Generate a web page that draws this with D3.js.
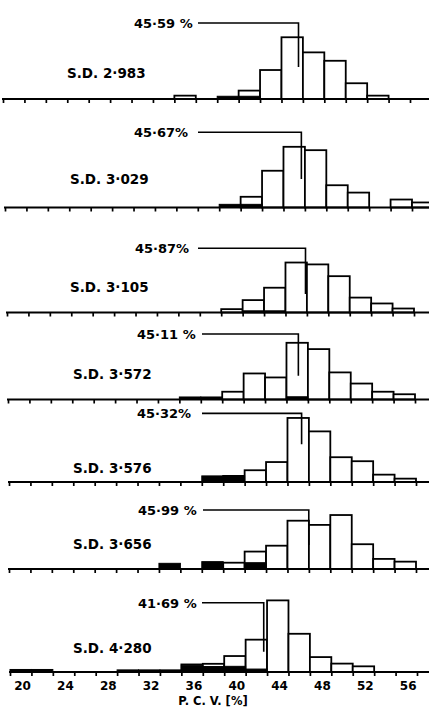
<!DOCTYPE html>
<html><head><meta charset="utf-8">
<script src="https://cdn.jsdelivr.net/npm/d3@7/dist/d3.min.js"></script>
<style>body{margin:0;background:#fff}svg{display:block}</style>
</head><body><svg id="c" width="429" height="721"></svg>
<script>
// ---------- DATA ----------
const sdLabels   = ["S.D. 2·983","S.D. 3·029","S.D. 3·105","S.D. 3·572","S.D. 3·576","S.D. 3·656","S.D. 4·280"];
const meanLabels = ["45·59 %","45·67%","45·87%","45·11 %","45·32%","45·99 %","41·69 %"];
const means      = [45.59, 45.67, 45.87, 45.11, 45.32, 45.99, 41.69];
// leader line of mean label: top (horizontal part) and lower end, in frequency units above baseline
const leaderTop    = [36.2, 35.8, 30.6, 31.2, 32.7, 28.1, 33.0];
const leaderBottom = [15.2, 13.6, 8.8, 11.3, 18.0, 11.4, 9.7];
// open (white) histogram bars: [bin start, frequency %], bin width 2
const open1 = [[34,1.6],[40,4.0],[42,13.8],[44,29.4],[46,22.2],[48,18.2],[50,7.5],[52,1.6]];
const open2 = [[40,5.1],[42,17.5],[44,28.9],[46,27.3],[48,10.6],[50,7.1],[54,3.8],[56,2.4]];
const open3 = [[38,1.6],[40,5.9],[42,11.8],[44,23.8],[46,22.9],[48,17.3],[50,7.1],[52,4.3],[54,1.9]];
const open4 = [[38,3.7],[40,12.4],[42,10.5],[44,27.0],[46,24.0],[48,12.9],[50,7.6],[52,3.7],[54,2.5]];
const open5 = [[38,2.9],[40,5.6],[42,9.5],[44,30.5],[46,24.1],[48,11.8],[50,9.9],[52,3.5],[54,1.6]];
const open6 = [[38,3.0],[40,8.3],[42,11.1],[44,23.0],[46,21.0],[48,25.7],[50,11.8],[52,4.8],[54,3.5]];
const open7 = [[34,3.6],[36,3.9],[38,7.6],[40,15.4],[42,34.1],[44,18.2],[46,7.1],[48,4.0],[50,2.7]];
// solid (black) bars
const solid1 = [[38,1.3],[40,1.3]];
const solid2 = [[38,1.5],[40,1.5]];
const solid3 = [[40,0.8],[42,0.8]];
const solid4 = [[34,1.2],[36,1.2],[44,1.3]];
const solid5 = [[36,2.9],[38,2.9]];
const solid6 = [[32,2.7],[36,3.5],[40,3.0]];
const solid7 = [[18,1.2],[20,1.2],[28,1.0],[30,1.0],[32,1.0],[34,3.2],[36,2.6],[38,2.7],[40,1.4]];
const tickValues  = d3.range(18, 57, 2);
const labelValues = [20,24,28,32,36,40,44,48,52,56];
const axisTitle = "P. C. V. [%]";
const binWidth = 2;

// ---------- LAYOUT ----------
const opens  = [open1,open2,open3,open4,open5,open6,open7];
const solids = [solid1,solid2,solid3,solid4,solid5,solid6,solid7];
const W = 429;
const panelBase  = [99, 207.5, 312.5, 399.5, 482, 569, 672];
const panelShift = [-4, -2, 0, 1, 2, 2, 3];
const sdX  = [67, 70, 70, 73, 73, 73, 73];
const sdDy = [21, 24, 21, 21, 9, 20, 19];
const labX = [134, 134, 135, 137, 137, 138, 138];
const leadX0 = [198, 198, 198, 202, 202, 203, 202];
const font = "'DejaVu Sans', sans-serif";

const x = d3.scaleLinear().domain([18, 56]).range([7, 414]);
const y = d3.scaleLinear().domain([0, 35]).range([0, 73.5]);

const svg = d3.select("#c");

panelBase.forEach((base, i) => {
  const sh = panelShift[i];
  const g = svg.append("g").attr("transform", `translate(${sh},${base})`);

  // open bars
  g.selectAll("rect.o").data(opens[i]).enter().append("rect")
    .attr("class","o")
    .attr("x", d => x(d[0]))
    .attr("width", d => x(d[0]+binWidth) - x(d[0]))
    .attr("y", d => -y(d[1]))
    .attr("height", d => y(d[1]))
    .attr("fill", "#fff").attr("stroke", "#000").attr("stroke-width", 1.8);

  // solid bars
  g.selectAll("rect.s").data(solids[i]).enter().append("rect")
    .attr("class","s")
    .attr("x", d => x(d[0]))
    .attr("width", d => x(d[0]+binWidth) - x(d[0]))
    .attr("y", d => -y(d[1]))
    .attr("height", d => y(d[1]))
    .attr("fill", "#000").attr("stroke", "#000").attr("stroke-width", 1);

  // ticks
  const ax = g.append("g")
    .call(d3.axisBottom(x).tickValues(tickValues).tickSize(4).tickFormat(""));
  ax.select(".domain").remove();
  ax.selectAll(".tick line").attr("stroke", "#000").attr("stroke-width", 1.7);

  // baseline
  g.append("line")
    .attr("x1", x(18) - 1).attr("x2", W - sh + 2)
    .attr("y1", 0).attr("y2", 0)
    .attr("stroke", "#000").attr("stroke-width", 2.2);

  // mean leader
  const mx = x(means[i]);
  g.append("path")
    .attr("d", `M${leadX0[i] - sh},${-y(leaderTop[i])}H${mx}V${-y(leaderBottom[i])}`)
    .attr("fill", "none").attr("stroke", "#000").attr("stroke-width", 1.6);

  // texts (absolute)
  svg.append("text")
    .attr("x", labX[i]).attr("y", base - y(leaderTop[i]) + 5)
    .attr("font-family", font).attr("font-weight", "bold").attr("font-size", 13)
    .attr("fill", "#000").text(meanLabels[i]);
  svg.append("text")
    .attr("x", sdX[i]).attr("y", base - sdDy[i])
    .attr("font-family", font).attr("font-weight", "bold").attr("font-size", 13.5)
    .attr("fill", "#000").text(sdLabels[i]);

  if (i === panelBase.length - 1) {
    const la = g.append("g")
      .call(d3.axisBottom(x).tickValues(labelValues).tickSize(0).tickFormat(d3.format("d")));
    la.select(".domain").remove();
    la.selectAll(".tick text")
      .attr("y", 18).attr("dy", 0).attr("dx", -1)
      .attr("text-anchor", "end")
      .attr("font-family", font).attr("font-weight", "bold").attr("font-size", 12)
      .attr("fill", "#000");
  }
});

svg.append("text")
  .attr("x", 213).attr("y", 705)
  .attr("text-anchor", "middle")
  .attr("font-family", font).attr("font-weight", "bold").attr("font-size", 11.5)
  .attr("fill", "#000").text(axisTitle);
</script>
</body></html>
